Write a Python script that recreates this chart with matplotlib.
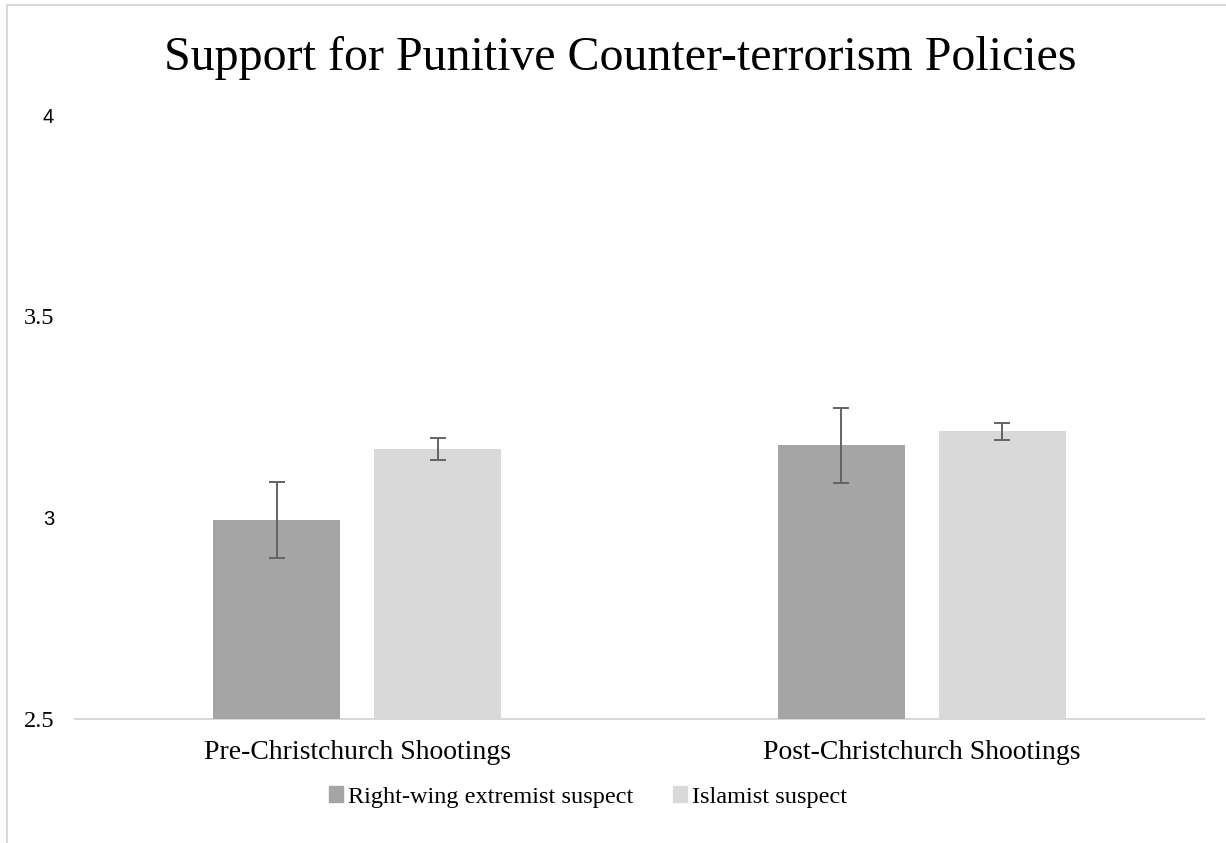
import matplotlib.pyplot as plt
import numpy as np
from matplotlib.lines import Line2D
from matplotlib.patches import Patch

# Data
CATEGORIES = ["Pre-Christchurch Shootings", "Post-Christchurch Shootings"]
SERIES = ["Right-wing extremist suspect", "Islamist suspect"]
MEANS = {
    "Right-wing extremist suspect": [2.994, 3.180],
    "Islamist suspect": [3.170, 3.215],
}
ERRORS = {
    "Right-wing extremist suspect": [0.094, 0.093],
    "Islamist suspect": [0.027, 0.021],
}
YTICKS = [2.5, 3.0, 3.5, 4.0]
YTICK_LABELS = ["2.5", "3", "3.5", "4"]

COLORS = ["#a5a5a5", "#d9d9d9"]
SERIF = "Liberation Serif"
SANS = "Liberation Sans"


def main():
    fig = plt.figure(figsize=(12.26, 8.43), dpi=100)
    ax = fig.add_axes([75 / 1226, 1 - 719 / 843, 1129 / 1226, (719 - 115) / 843])

    x = np.arange(len(CATEGORIES))
    width = 0.225
    gap = 0.06
    for j, name in enumerate(SERIES):
        offset = (j - 0.5) * (width + gap)
        ax.bar(x + offset, np.array(MEANS[name]) - 2.5, width, bottom=2.5,
               color=COLORS[j], zorder=2)
        ax.errorbar(x + offset, MEANS[name], yerr=ERRORS[name], fmt="none",
                    ecolor="#636363", elinewidth=1.4, capsize=6, capthick=1.4,
                    zorder=3)

    ax.set_xlim(-0.5, 1.5)
    ax.set_ylim(2.5, 4.0)
    ax.set_yticks(YTICKS)
    ax.set_yticklabels(YTICK_LABELS)
    # integer labels come out in a sans face in the reference, decimals in serif
    for lbl, txt in zip(ax.get_yticklabels(), YTICK_LABELS):
        lbl.set_fontfamily(SANS if "." not in txt else SERIF)
        lbl.set_fontsize(14.5 if "." not in txt else 17.5)
    ax.tick_params(axis="y", length=0, pad=15, labelcolor="black")
    ax.set_xticks(x)
    ax.set_xticklabels(CATEGORIES, fontfamily=SERIF, fontsize=20)
    ax.tick_params(axis="x", length=0, pad=15)

    for side in ["top", "right", "left"]:
        ax.spines[side].set_visible(False)
    ax.spines["bottom"].set_color("#d9d9d9")
    ax.spines["bottom"].set_linewidth(1.5)
    ax.spines["bottom"].set_zorder(1)

    fig.text(620 / 1226, 1 - 70 / 843, "Support for Punitive Counter-terrorism Policies",
             ha="center", va="baseline", fontfamily=SERIF, fontsize=34.5)

    handles = [Patch(color=c, label=s) for c, s in zip(COLORS, SERIES)]
    fig.legend(handles=handles, loc="center", bbox_to_anchor=(588 / 1226, 1 - 797 / 843),
               ncol=2, frameon=False, prop={"family": SERIF, "size": 17.5},
               handlelength=0.6, handleheight=0.6, handletextpad=0.2,
               columnspacing=1.6)

    # chart frame edges (left and top) as seen in the reference
    fig.add_artist(Line2D([7 / 1226, 7 / 1226], [0, 1 - 5 / 843],
                          transform=fig.transFigure, color="#d9d9d9", lw=1.5))
    fig.add_artist(Line2D([7 / 1226, 1], [1 - 5 / 843, 1 - 5 / 843],
                          transform=fig.transFigure, color="#d9d9d9", lw=1.5))

    fig.savefig("out.png", dpi=100)
    plt.close(fig)


if __name__ == "__main__":
    main()
